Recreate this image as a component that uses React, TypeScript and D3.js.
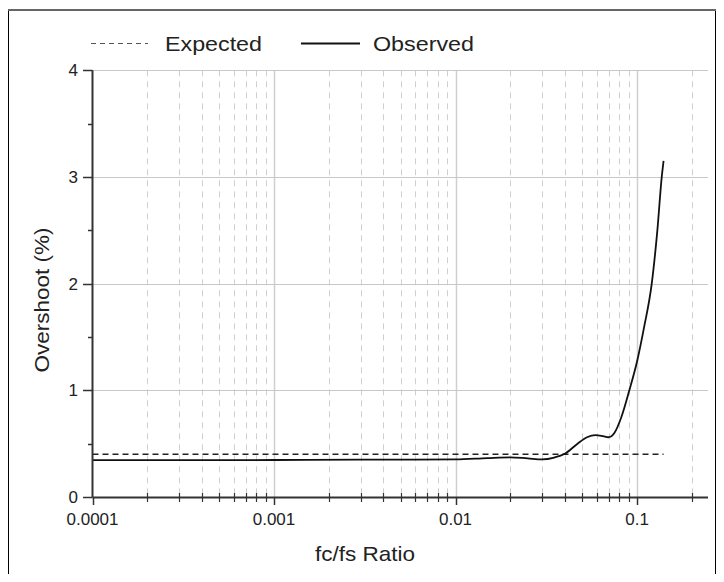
import { useEffect, useRef } from "react";
import * as d3 from "d3";

// fc/fs ratio vs overshoot (%)
const ratios = [
  0.0001, 0.0003, 0.001, 0.003, 0.006, 0.01, 0.015, 0.02, 0.025, 0.03, 0.035, 0.04,
  0.047, 0.053, 0.059, 0.065, 0.0695, 0.075, 0.082, 0.0907, 0.1, 0.1093, 0.1205, 0.1294,
  0.1368, 0.14,
];
const observed = [
  0.345, 0.345, 0.347, 0.35, 0.35, 0.352, 0.365, 0.372, 0.362, 0.353, 0.37, 0.405,
  0.5, 0.56, 0.58, 0.57, 0.56, 0.6, 0.75, 1.0, 1.27, 1.59, 2.0, 2.5, 3.0, 3.15,
];
const expectedRange = [0.0001, 0.14];
const expectedValue = 0.4;
const xTickLabels = ["0.0001", "0.001", "0.01", "0.1"];
const yTicks = [0, 1, 2, 3, 4];

const FONT = "'Liberation Sans', Arial, sans-serif";

export default function App() {
  const svgRef = useRef<SVGSVGElement>(null);

  useEffect(() => {
    const width = 724;
    const height = 582;
    const svg = d3.select(svgRef.current);
    svg.selectAll("*").remove();
    svg.attr("width", width).attr("height", height);

    const x = d3.scaleLog().domain([0.0001, 0.246]).range([92.5, 708]);
    const y = d3.scaleLinear().domain([0, 4]).range([497, 70.3]);

    // frame
    svg.append("rect")
      .attr("x", 8.5).attr("y", 10.5).attr("width", 707).attr("height", 580)
      .attr("fill", "#fff").attr("stroke", "#000").attr("stroke-width", 1);
    svg.append("line")
      .attr("x1", 8).attr("x2", 716).attr("y1", 10).attr("y2", 10)
      .attr("stroke", "#666").attr("stroke-width", 2);

    const g = svg.append("g");
    const [x0, x1] = x.range();
    const isDecade = (t: number) => Math.abs(Math.log10(t) - Math.round(Math.log10(t))) < 1e-9;

    // vertical grid
    const allTicks = x.ticks();
    allTicks.forEach((t) => {
      if (t === 0.0001) return;
      const major = isDecade(t);
      g.append("line")
        .attr("x1", Math.round(x(t)) + 0.5).attr("x2", Math.round(x(t)) + 0.5)
        .attr("y1", y(4)).attr("y2", y(0))
        .attr("stroke", "#cfcfcf")
        .attr("stroke-width", major ? 1.5 : 1)
        .attr("stroke-dasharray", major ? null : "6,5");
    });

    // horizontal grid
    yTicks.slice(1).forEach((v) => {
      g.append("line")
        .attr("x1", x0).attr("x2", x1)
        .attr("y1", Math.round(y(v)) + 0.5).attr("y2", Math.round(y(v)) + 0.5)
        .attr("stroke", "#c8c8c8").attr("stroke-width", 1.2);
    });

    // expected line
    g.append("line")
      .attr("x1", x(expectedRange[0])).attr("x2", x(expectedRange[1]))
      .attr("y1", y(expectedValue)).attr("y2", y(expectedValue))
      .attr("stroke", "#222").attr("stroke-width", 1.5)
      .attr("stroke-dasharray", "6,4");

    // observed line
    const pts = ratios.map((r, i) => [r, observed[i]] as [number, number]);
    const line = d3.line<[number, number]>()
      .x((d) => x(d[0]))
      .y((d) => y(d[1]))
      .curve(d3.curveMonotoneX);
    g.append("path")
      .datum(pts)
      .attr("fill", "none")
      .attr("stroke", "#111")
      .attr("stroke-width", 1.8)
      .attr("d", line);

    // x axis
    const xAxis = g.append("g");
    xAxis.append("line")
      .attr("x1", x0).attr("x2", x1).attr("y1", 497.5).attr("y2", 497.5)
      .attr("stroke", "#333").attr("stroke-width", 2);
    allTicks.forEach((t) => {
      const major = isDecade(t);
      const px = Math.round(x(t)) + 0.5;
      xAxis.append("line")
        .attr("x1", px).attr("x2", px)
        .attr("y1", major ? 497 : 493).attr("y2", major ? 505 : 502)
        .attr("stroke", "#333").attr("stroke-width", major ? 1.5 : 1.2);
    });
    xTickLabels.forEach((lab) => {
      xAxis.append("text")
        .attr("x", x(+lab)).attr("y", 525)
        .attr("text-anchor", "middle")
        .attr("font-family", FONT).attr("font-size", 17).attr("fill", "#222")
        .text(lab);
    });

    // y axis
    const yAxis = g.append("g");
    yAxis.append("line")
      .attr("x1", 92.5).attr("x2", 92.5).attr("y1", y(4)).attr("y2", y(0))
      .attr("stroke", "#333").attr("stroke-width", 2);
    d3.range(0, 4.01, 0.5).forEach((v) => {
      const major = Number.isInteger(v);
      const py = Math.round(y(v)) + 0.5;
      yAxis.append("line")
        .attr("x1", major ? 83 : 88).attr("x2", 92.5).attr("y1", py).attr("y2", py)
        .attr("stroke", "#333").attr("stroke-width", 1.5);
    });
    yTicks.forEach((v) => {
      yAxis.append("text")
        .attr("x", 78).attr("y", y(v))
        .attr("dy", "0.35em")
        .attr("text-anchor", "end")
        .attr("font-family", FONT).attr("font-size", 17).attr("fill", "#222")
        .text(v);
    });

    // axis titles
    svg.append("text")
      .attr("x", 365).attr("y", 561)
      .attr("text-anchor", "middle")
      .attr("font-family", FONT).attr("font-size", 21).attr("fill", "#222")
      .attr("textLength", 100).attr("lengthAdjust", "spacingAndGlyphs")
      .text("fc/fs Ratio");
    svg.append("text")
      .attr("transform", "translate(49,300) rotate(-90)")
      .attr("text-anchor", "middle")
      .attr("font-family", FONT).attr("font-size", 21).attr("fill", "#222")
      .attr("textLength", 145).attr("lengthAdjust", "spacingAndGlyphs")
      .text("Overshoot (%)");

    // legend
    const leg = svg.append("g");
    leg.append("line")
      .attr("x1", 91).attr("x2", 148).attr("y1", 43.5).attr("y2", 43.5)
      .attr("stroke", "#555").attr("stroke-width", 1.2)
      .attr("stroke-dasharray", "5,4");
    leg.append("text")
      .attr("x", 165).attr("y", 50.5)
      .attr("font-family", FONT).attr("font-size", 21).attr("fill", "#222")
      .attr("textLength", 97).attr("lengthAdjust", "spacingAndGlyphs")
      .text("Expected");
    leg.append("line")
      .attr("x1", 301).attr("x2", 360).attr("y1", 43.5).attr("y2", 43.5)
      .attr("stroke", "#111").attr("stroke-width", 2);
    leg.append("text")
      .attr("x", 373).attr("y", 50.5)
      .attr("font-family", FONT).attr("font-size", 21).attr("fill", "#222")
      .attr("textLength", 101).attr("lengthAdjust", "spacingAndGlyphs")
      .text("Observed");
  }, []);

  return (
    <div style={{ margin: -8 }}>
      <svg ref={svgRef} style={{ display: "block" }} />
    </div>
  );
}
